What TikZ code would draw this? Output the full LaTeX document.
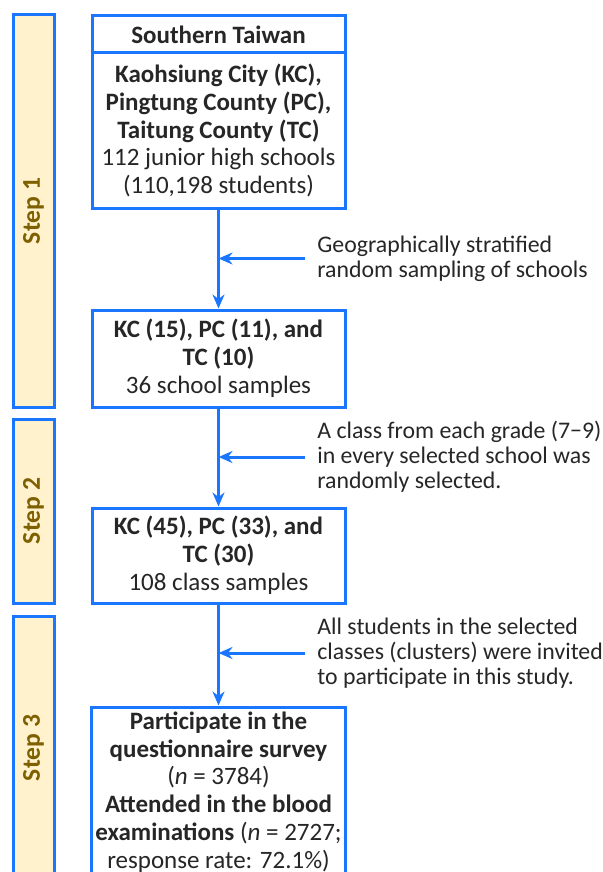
\documentclass[tikz,border=0pt]{standalone}
\usepackage{fontspec}
\setmainfont{Carlito}
\usetikzlibrary{arrows.meta}
\definecolor{bl}{RGB}{26,117,255}
\definecolor{cream}{HTML}{FFF2CC}
\definecolor{gold}{HTML}{7F6000}
\definecolor{txt}{HTML}{262626}
\begin{document}
\begin{tikzpicture}[x=0.5pt,y=-0.5pt,
  box/.style={draw=bl, line width=1.5pt, fill=white, minimum width=126.5pt, align=center, text=txt, inner sep=2pt, font=\fontsize{12.5}{13.9}\selectfont},
  stepbar/.style={draw=bl, line width=1.5pt, fill=cream, minimum height=20.5pt, text=gold, font=\fontsize{12.8}{14}\selectfont\bfseries, rotate=90, inner sep=0pt},
  note/.style={anchor=west, align=left, text=txt, inner xsep=6pt, inner ysep=0pt, font=\fontsize{11.9}{12.5}\selectfont},
  arr/.style={draw=bl, line width=1.5pt, -{Stealth[length=7pt,width=6pt]}}]
\useasboundingbox (0,0) rectangle (603,872);
\clip (0,0) rectangle (603,872);
% step bars
\node[stepbar, minimum width=196pt] (s1) at (33.5,211) {Step 1};
\node[stepbar, minimum width=92pt] (s2) at (33.5,511) {Step 2};
\node[stepbar, minimum width=132pt] (s3) at (33.5,748) {Step 3};
% boxes
\node[box, minimum height=18.5pt] (b1t) at (218.5,34.5) {\textbf{Southern Taiwan}};
\node[box, minimum height=77.5pt] (b1) at (218.5,130.5) {\textbf{Kaohsiung City (KC),}\\\textbf{Pingtung County (PC),}\\\textbf{Taitung County (TC)}\\112 junior high schools\\(110,198 students)};
\node[box, minimum height=48.5pt] (b2) at (218.5,358.5) {\textbf{KC (15), PC (11), and}\\\textbf{TC (10)}\\36 school samples};
\node[box, minimum height=47.5pt] (b3) at (218.5,555.5) {\textbf{KC (45), PC (33), and}\\\textbf{TC (30)}\\108 class samples};
\node[box, minimum height=85pt] (b4) at (218.5,792) {\textbf{Participate in the}\\\textbf{questionnaire survey}\\(\textit{n} = 3784)\\\textbf{Attended in the blood}\\\textbf{examinations} (\textit{n} = 2727;\\response rate: 72.1\%)};
% notes
\node[note] (t1) at (305,258.5) {Geographically stratified\\random sampling of schools};
\node[note] (t2) at (305,457) {A class from each grade (7−9)\\in every selected school was\\randomly selected.};
\node[note] (t3) at (305,653) {All students in the selected\\classes (clusters) were invited\\to participate in this study.};
% arrows
\draw[arr] (b1.south) -- (b2.north);
\draw[arr] (b2.south) -- (b3.north);
\draw[arr] (b3.south) -- (b4.north);
\draw[arr] (t1.west) -- (t1.west -| b1.south);
\draw[arr] (t2.west) -- (t2.west -| b2.south);
\draw[arr] (t3.west) -- (t3.west -| b3.south);
\end{tikzpicture}
\end{document}
